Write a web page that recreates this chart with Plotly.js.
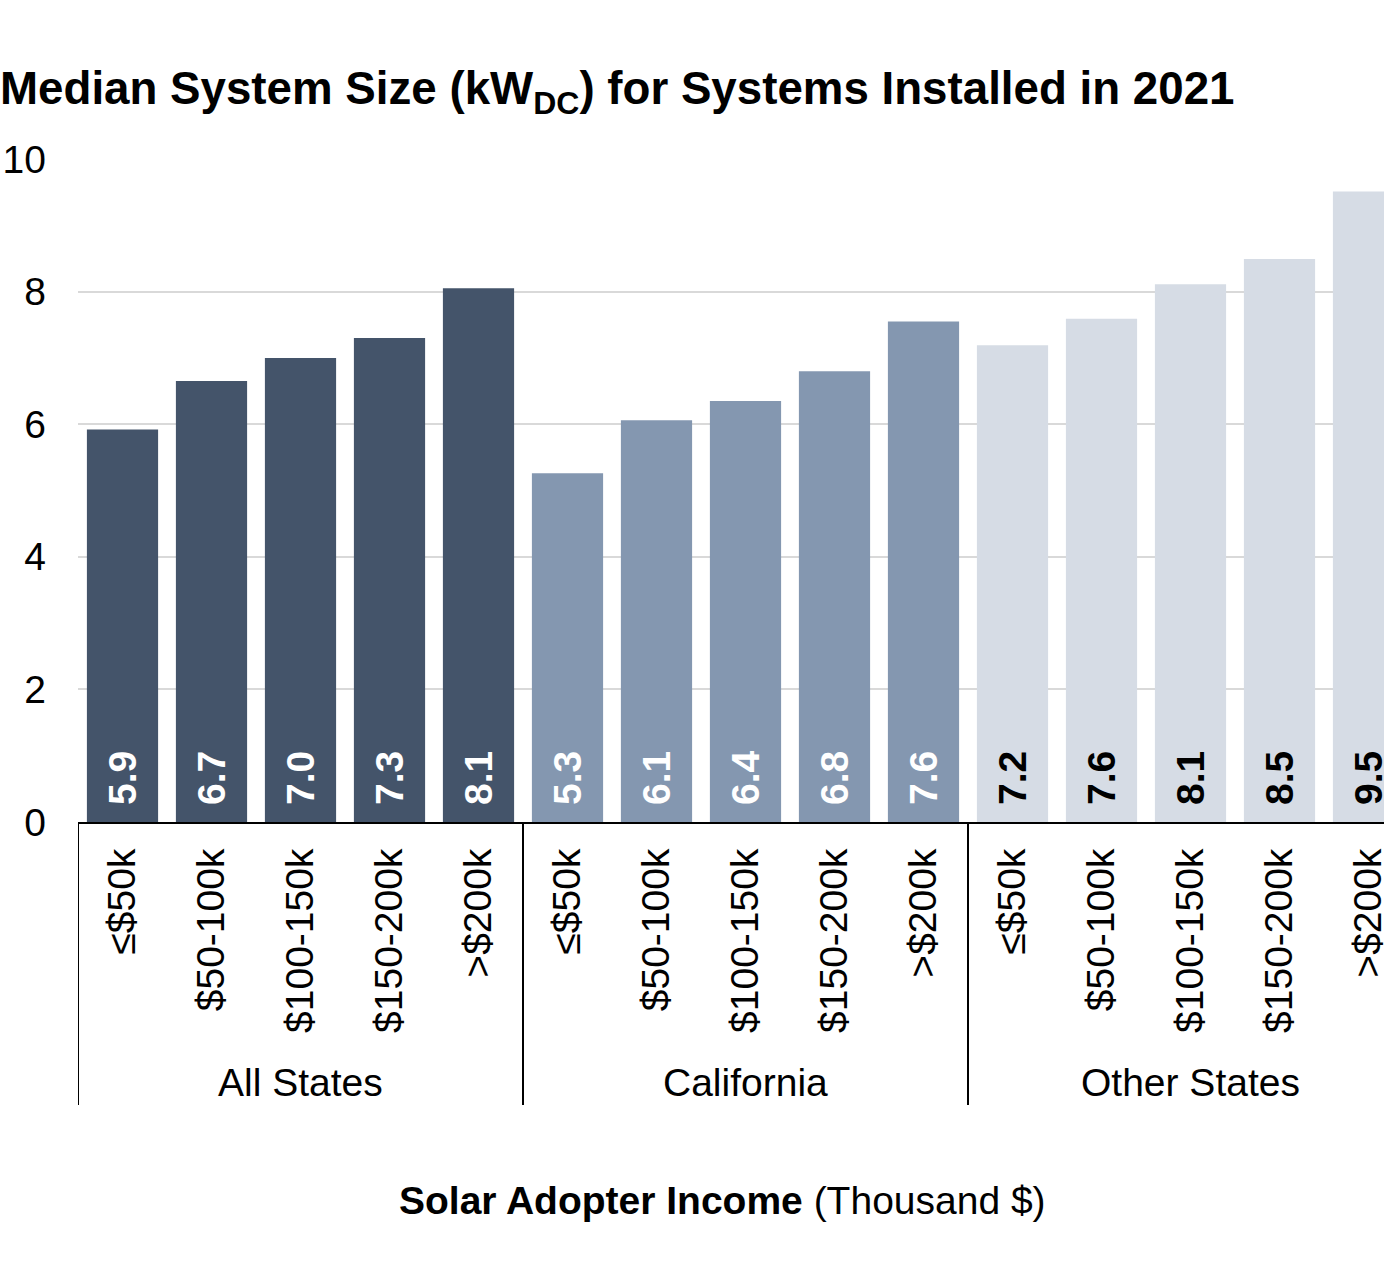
<!DOCTYPE html>
<html>
<head>
<meta charset="utf-8">
<script src="https://cdn.plot.ly/plotly-3.0.1.min.js"></script>
<style>
html, body { margin: 0; padding: 0; overflow: hidden; background: #fff; }
#wrap { width: 1384px; height: 1265px; overflow: hidden; }
#chart { width: 1430px; height: 1265px; }
</style>
</head>
<body>
<div id="wrap"><div id="chart"></div></div>
<script>
const groups = ['All States', 'California', 'Other States'];
const incomes = ['≤$50k', '$50-100k', '$100-150k', '$150-200k', '>$200k'];
const allStates = [5.92, 6.65, 7.0, 7.3, 8.05];
const california = [5.26, 6.06, 6.35, 6.8, 7.55];
const otherStates = [7.19, 7.59, 8.11, 8.49, 9.51];
const allStatesLabels = ['5.9', '6.7', '7.0', '7.3', '8.1'];
const californiaLabels = ['5.3', '6.1', '6.4', '6.8', '7.6'];
const otherStatesLabels = ['7.2', '7.6', '8.1', '8.5', '9.5'];
const yTicks = [0, 2, 4, 6, 8, 10];

const seriesValues = [allStates, california, otherStates];
const seriesLabels = [allStatesLabels, californiaLabels, otherStatesLabels];
const colors = ['#44546A', '#8497B0', '#D6DCE5'];
const textColors = ['#ffffff', '#ffffff', '#000000'];
const FONT = 'Arial, "Liberation Sans", sans-serif';
const FS = 39;

const keyOf = (g, inc) => g + '|' + inc;
const allKeys = [];
const allTickText = [];
groups.forEach(g => incomes.forEach(inc => { allKeys.push(keyOf(g, inc)); allTickText.push(inc); }));

const traces = groups.map((g, i) => ({
  type: 'bar',
  name: g,
  x: incomes.map(inc => keyOf(g, inc)),
  y: seriesValues[i],
  text: seriesLabels[i],
  texttemplate: '\u00a0\u200a%{text}',
  textposition: 'inside',
  insidetextanchor: 'start',
  textangle: -90,
  textfont: { family: FONT, size: FS, color: textColors[i], weight: 'bold' },
  marker: { color: colors[i], line: { width: 0 } },
  hoverinfo: 'skip'
}));

const plotH = 663;
const px2paper = p => -(p - 822) / plotH;

const annotations = groups.map(g => ({
  x: keyOf(g, incomes[2]), xref: 'x',
  y: px2paper(1082), yref: 'paper',
  text: g, showarrow: false,
  xanchor: 'center', yanchor: 'middle',
  font: { family: FONT, size: FS, color: '#000' }
}));
annotations.push({
  x: (722 - 78) / 1335, xref: 'paper',
  y: px2paper(1200), yref: 'paper',
  text: '<b>Solar Adopter Income</b> (Thousand $)',
  showarrow: false, xanchor: 'center', yanchor: 'middle',
  font: { family: FONT, size: FS, color: '#000' }
});

const dividerPos = [-0.5, 4.5, 9.5, 14.5];
const shapes = dividerPos.map(xp => ({
  type: 'line', xref: 'x', yref: 'paper',
  x0: xp, x1: xp, y0: 0, y1: px2paper(1105),
  line: { color: '#000', width: 2 }
}));

const layout = {
  width: 1430, height: 1265,
  margin: { l: 78, r: 17, t: 159, b: 1265 - 822, pad: 0 },
  paper_bgcolor: '#fff', plot_bgcolor: '#fff',
  showlegend: false,
  barmode: 'overlay',
  bargap: 0.2,
  font: { family: FONT, color: '#000' },
  title: {
    text: '<b>Median System Size (kW<sub>DC</sub>) for Systems Installed in 2021</b>',
    font: { family: FONT, size: 45.7, color: '#000' },
    x: 0, xref: 'container', xanchor: 'left',
    y: 1 - 88 / 1265, yref: 'container', yanchor: 'middle',
    pad: { l: 0, r: 0, t: 0, b: 0 }
  },
  xaxis: {
    type: 'category',
    categoryorder: 'array', categoryarray: allKeys,
    tickmode: 'array', tickvals: allKeys, ticktext: allTickText,
    range: [-0.5, 14.5],
    tickangle: -90,
    tickfont: { family: FONT, size: FS, color: '#000' },
    ticks: '', ticklabelstandoff: 9,
    showline: true, linecolor: '#000', linewidth: 2,
    showgrid: false, zeroline: false, automargin: false, fixedrange: true
  },
  yaxis: {
    range: [0, 10],
    tickmode: 'array', tickvals: yTicks,
    tickfont: { family: FONT, size: FS, color: '#000' },
    ticks: '', ticklabelstandoff: 31,
    showline: false, zeroline: false,
    showgrid: true, gridcolor: '#D9D9D9', gridwidth: 2,
    automargin: false, fixedrange: true
  },
  annotations: annotations,
  shapes: shapes
};

Plotly.newPlot('chart', traces, layout, { displayModeBar: false, staticPlot: true });
</script>
</body>
</html>
